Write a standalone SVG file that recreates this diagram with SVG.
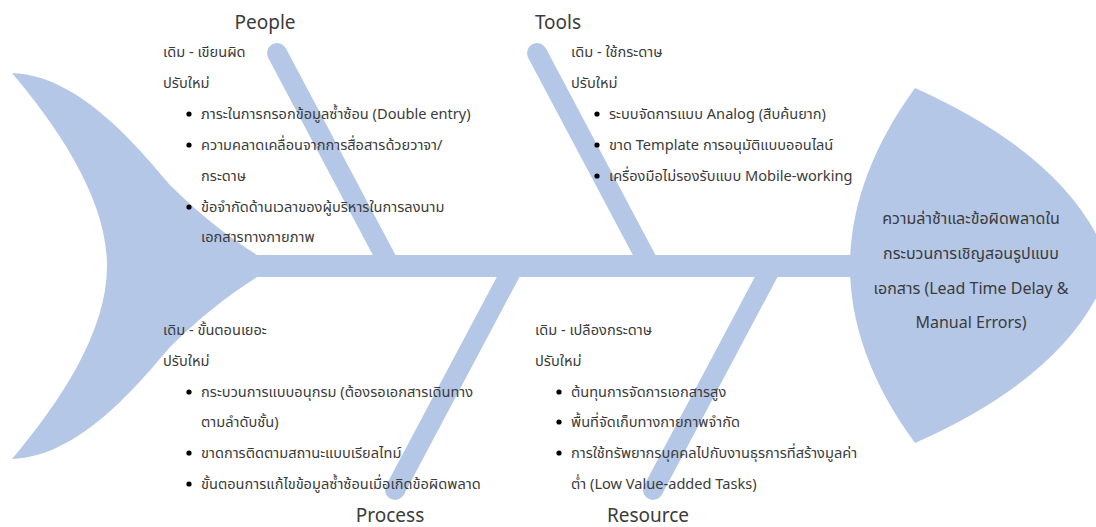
<svg xmlns="http://www.w3.org/2000/svg" width="1096" height="527" viewBox="0 0 1096 527">
<style>
.fish{fill:#B4C7E7;stroke:none}
.bone{stroke:#B4C7E7;stroke-width:20;fill:none;stroke-linecap:butt}
.t{font-family:'Noto Sans','Noto Sans Thai','Leelawadee UI',sans-serif;font-size:14.6px;fill:#3b3b3b}
.cat{font-family:'Noto Sans','Noto Sans Thai',sans-serif;font-size:19px;fill:#3b3b3b;text-anchor:middle}
.head{font-family:'Noto Sans','Noto Sans Thai',sans-serif;font-size:16px;fill:#3b3b3b;text-anchor:middle}
.b{fill:#000}
</style>
<rect width="1096" height="527" fill="#fff"/>
<g id="tail">
<path class="fish" d="M12,73 C80,75 140,150 170,185 C200,215 230,238 257,255 L257,277 C230,294 200,317 170,347 C140,382 80,457 12,459 C60,402 107,332 107,266 C107,200 60,130 12,73 Z"/>
</g>
<g id="connectors">
<rect class="fish" x="250" y="255" width="606" height="22"/>
<line class="bone" x1="277" y1="53" x2="390" y2="266"/>
<circle class="fish" cx="277" cy="53" r="10"/>
<line class="bone" x1="537" y1="53" x2="650" y2="266"/>
<circle class="fish" cx="537" cy="53" r="10"/>
<line class="bone" x1="395" y1="490" x2="514" y2="266"/>
<circle class="fish" cx="395" cy="490" r="10"/>
<line class="bone" x1="653" y1="490" x2="772" y2="266"/>
<circle class="fish" cx="653" cy="490" r="10"/>
</g>
<g id="head">
<path class="fish" d="M915,88 Q1075,160 1110,266 Q1075,372 915,443 C870,382 850,322 850,266 C850,210 870,150 915,88 Z"/>
<text class="head" x="971" y="224">ความล่าช้าและข้อผิดพลาดใน</text>
<text class="head" x="971" y="259">กระบวนการเชิญสอนรูปแบบ</text>
<text class="head" x="971" y="294">เอกสาร (Lead Time Delay &amp;</text>
<text class="head" x="971" y="328">Manual Errors)</text>
</g>
<g id="people">
<text class="cat" x="265" y="29">People</text>
<text class="t" x="163" y="57">เดิม - เขียนผิด</text>
<text class="t" x="163" y="88">ปรับใหม่</text>
<circle class="b" cx="189" cy="114" r="2.6"/>
<text class="t" x="201" y="119">ภาระในการกรอกข้อมูลซ้ำซ้อน (Double entry)</text>
<circle class="b" cx="189" cy="145" r="2.6"/>
<text class="t" x="201" y="150">ความคลาดเคลื่อนจากการสื่อสารด้วยวาจา/</text>
<text class="t" x="201" y="181">กระดาษ</text>
<circle class="b" cx="189" cy="207" r="2.6"/>
<text class="t" x="201" y="212">ข้อจำกัดด้านเวลาของผู้บริหารในการลงนาม</text>
<text class="t" x="201" y="242">เอกสารทางกายภาพ</text>
</g>
<g id="tools">
<text class="cat" x="558" y="29">Tools</text>
<text class="t" x="571" y="57">เดิม - ใช้กระดาษ</text>
<text class="t" x="571" y="88">ปรับใหม่</text>
<circle class="b" cx="597" cy="114" r="2.6"/>
<text class="t" x="609" y="119">ระบบจัดการแบบ Analog (สืบค้นยาก)</text>
<circle class="b" cx="597" cy="145" r="2.6"/>
<text class="t" x="609" y="150">ขาด Template การอนุมัติแบบออนไลน์</text>
<circle class="b" cx="597" cy="176" r="2.6"/>
<text class="t" x="609" y="181">เครื่องมือไม่รองรับแบบ Mobile-working</text>
</g>
<g id="process">
<text class="cat" x="390" y="522">Process</text>
<text class="t" x="163" y="335">เดิม - ขั้นตอนเยอะ</text>
<text class="t" x="163" y="366">ปรับใหม่</text>
<circle class="b" cx="189" cy="392" r="2.6"/>
<text class="t" x="201" y="397">กระบวนการแบบอนุกรม (ต้องรอเอกสารเดินทาง</text>
<text class="t" x="201" y="427">ตามลำดับชั้น)</text>
<circle class="b" cx="189" cy="453" r="2.6"/>
<text class="t" x="201" y="458">ขาดการติดตามสถานะแบบเรียลไทม์</text>
<circle class="b" cx="189" cy="484" r="2.6"/>
<text class="t" x="201" y="489">ขั้นตอนการแก้ไขข้อมูลซ้ำซ้อนเมื่อเกิดข้อผิดพลาด</text>
</g>
<g id="resource">
<text class="cat" x="648" y="522">Resource</text>
<text class="t" x="535" y="335">เดิม - เปลืองกระดาษ</text>
<text class="t" x="535" y="366">ปรับใหม่</text>
<circle class="b" cx="559" cy="392" r="2.6"/>
<text class="t" x="571" y="397">ต้นทุนการจัดการเอกสารสูง</text>
<circle class="b" cx="559" cy="422" r="2.6"/>
<text class="t" x="571" y="427">พื้นที่จัดเก็บทางกายภาพจำกัด</text>
<circle class="b" cx="559" cy="453" r="2.6"/>
<text class="t" x="571" y="458">การใช้ทรัพยากรบุคคลไปกับงานธุรการที่สร้างมูลค่า</text>
<text class="t" x="571" y="489">ต่ำ (Low Value-added Tasks)</text>
</g>
</svg>
